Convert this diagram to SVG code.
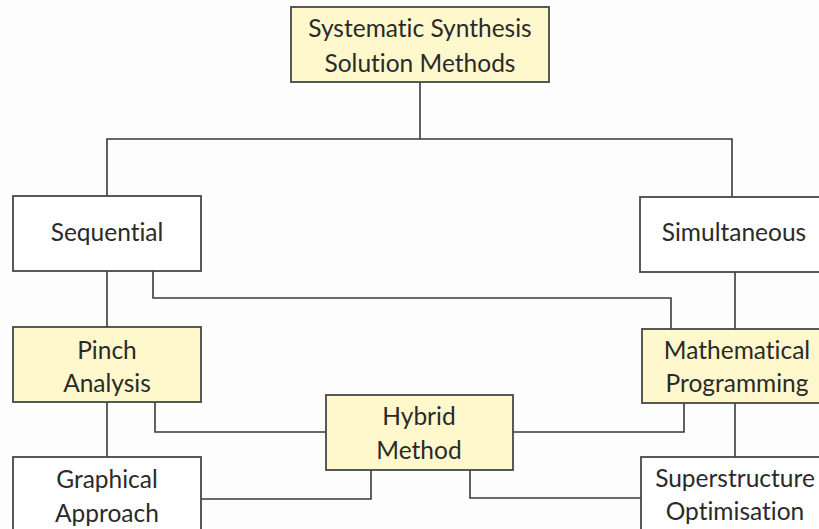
<svg xmlns="http://www.w3.org/2000/svg" width="819" height="529" viewBox="0 0 819 529">
<style>
.box{stroke:#474747;stroke-width:1.8;}
.plain{fill:#ffffff;}
.hl{fill:#fff8cc;}
.lbl{font-family:Lato,"Open Sans","Liberation Sans",sans-serif;font-size:24.5px;fill:#2a2a2a;text-anchor:middle;font-variant-ligatures:none;}
.conn{fill:none;stroke:#3a3a3a;stroke-width:1.6;}
</style>
<rect x="0" y="0" width="819" height="529" fill="#fdfdfd"/>
<g id="connectors" class="conn">
<path d="M420 82 V139"/>
<path d="M107 196 V139 H732 V197"/>
<path d="M107 271 V328"/>
<path d="M153 271 V298 H671 V329"/>
<path d="M735 272 V329"/>
<path d="M107 402 V457"/>
<path d="M155 402 V432 H326"/>
<path d="M684 403 V432 H513"/>
<path d="M735 403 V457"/>
<path d="M371 470 V499 H201"/>
<path d="M470 470 V498 H641"/>
</g>
<g id="node-top">
<rect class="box hl" x="291" y="7" width="258" height="75"/>
<text class="lbl" x="420" y="37">Systematic Synthesis</text>
<text class="lbl" x="420" y="72">Solution Methods</text>
</g>
<g id="node-sequential">
<rect class="box plain" x="13" y="196" width="188" height="75"/>
<text class="lbl" x="107" y="241">Sequential</text>
</g>
<g id="node-simultaneous">
<rect class="box plain" x="640" y="197" width="190" height="75"/>
<text class="lbl" x="734" y="241">Simultaneous</text>
</g>
<g id="node-pinch">
<rect class="box hl" x="13" y="327" width="188" height="75"/>
<text class="lbl" x="107" y="359">Pinch</text>
<text class="lbl" x="107" y="392">Analysis</text>
</g>
<g id="node-math">
<rect class="box hl" x="642" y="329" width="188" height="74"/>
<text class="lbl" x="737" y="359">Mathematical</text>
<text class="lbl" x="737" y="392">Programming</text>
</g>
<g id="node-hybrid">
<rect class="box hl" x="326" y="395" width="187" height="75"/>
<text class="lbl" x="419" y="425">Hybrid</text>
<text class="lbl" x="419" y="459">Method</text>
</g>
<g id="node-graphical">
<rect class="box plain" x="13" y="457" width="188" height="80"/>
<text class="lbl" x="107" y="488">Graphical</text>
<text class="lbl" x="107" y="522">Approach</text>
</g>
<g id="node-superstructure">
<rect class="box plain" x="641" y="457" width="189" height="80"/>
<text class="lbl" x="735" y="487">Superstructure</text>
<text class="lbl" x="735" y="520">Optimisation</text>
</g>
</svg>
